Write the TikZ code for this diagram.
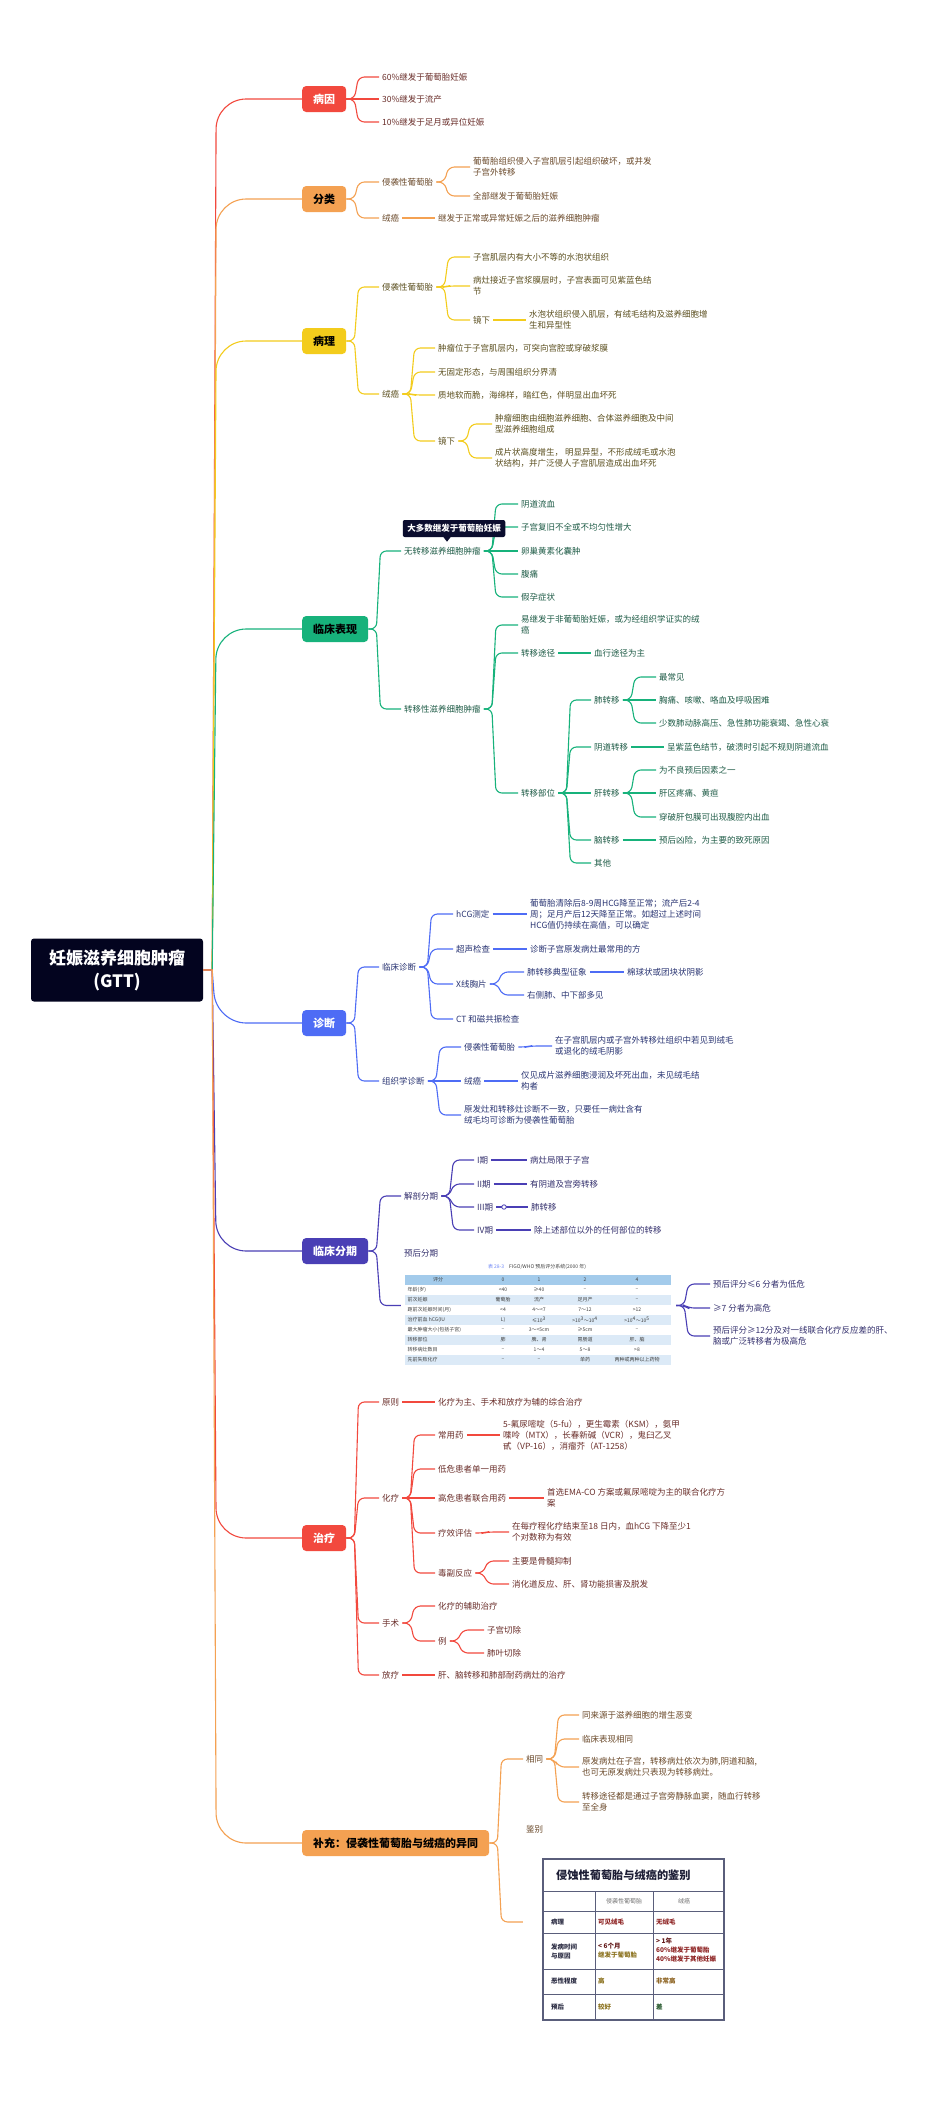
\documentclass[tikz,border=0pt]{standalone}
\usepackage{fontspec}
\setmainfont{Noto Sans CJK SC}
\usetikzlibrary{fit}

\definecolor{rootbg}{HTML}{03041F}
\definecolor{cRed}{HTML}{F2493E}
\definecolor{cOrange}{HTML}{F4A152}
\definecolor{cYellow}{HTML}{F3CC1C}
\definecolor{cGreen}{HTML}{17B27B}
\definecolor{cBlue}{HTML}{4E6CF5}
\definecolor{cIndigo}{HTML}{4A3FB5}
\definecolor{tRed}{HTML}{6A2E2A}
\definecolor{tOrange}{HTML}{6B4A2B}
\definecolor{tYellow}{HTML}{5C5020}
\definecolor{tGreen}{HTML}{1F5C47}
\definecolor{tBlue}{HTML}{2A3573}
\definecolor{tIndigo}{HTML}{35316E}
\definecolor{notebg}{HTML}{0B0D2E}
\definecolor{tabhead}{HTML}{A3CBEB}
\definecolor{tabrow}{HTML}{DCEAF7}
\definecolor{tabline}{HTML}{5A5E7B}
\definecolor{tabred}{HTML}{8E2323}
\definecolor{tabolive}{HTML}{8C7320}
\definecolor{tabgreen}{HTML}{2F5E35}

\tikzset{
  root/.style={fill=rootbg, text=white, rounded corners=3, minimum width=172,
    minimum height=63, align=center, font=\bfseries\fontsize{17}{23}\selectfont},
  main/.style={anchor=west, rounded corners=4, minimum height=26, inner xsep=11,
    inner ysep=0, font=\bfseries\fontsize{11}{13}\selectfont},
  leaf/.style={anchor=west, inner sep=3, align=left, font=\fontsize{8.5}{11}\selectfont},
  link/.style={line width=1.1, rounded corners=6},
  tabtxt/.style={inner sep=0.5, text=black!75, font=\fontsize{5}{6}\selectfont},
  cmp/.style={anchor=west, inner sep=0, align=left, font=\bfseries\fontsize{6.5}{9}\selectfont},
}
\newcommand\lnk[2]{\draw[link] (#1.east) -- ++(8,0) coordinate (lk) -- ([xshift=4pt]lk |- #2.west) -- (#2.west);}
\newcommand\rlnk[2]{\draw[line width=1.1, #1] (gtt.east) -- ++(9,0) coordinate (lk) [rounded corners=30] -- ([xshift=4pt]lk |- #2.west) -- (#2.west);}

\begin{document}
\begin{tikzpicture}[x=1pt,y=-1pt]
\useasboundingbox (0,0) rectangle (950,2104);
\fill[white] (0,0) rectangle (950,2104);

% Node: root
\node[root] (gtt) at (117,970) {妊娠滋养细胞肿瘤\\(GTT)};

% Node: main topics
\node[main, fill=cRed, text=white] (by) at (302,99) {病因};
\node[main, fill=cOrange, text=black] (fl) at (302,199) {分类};
\node[main, fill=cYellow, text=black] (bl) at (302,341) {病理};
\node[main, fill=cGreen, text=black] (lc) at (302,629) {临床表现};
\node[main, fill=cBlue, text=white] (zd) at (302,1023) {诊断};
\node[main, fill=cIndigo, text=white] (fq) at (302,1251) {临床分期};
\node[main, fill=cRed, text=white] (zl) at (302,1538) {治疗};
\node[main, fill=cOrange, text=black] (bc) at (302,1843) {补充：侵袭性葡萄胎与绒癌的异同};

% Edge: root -> main topics
\rlnk{cRed}{by}
\rlnk{cOrange}{fl}
\rlnk{cYellow}{bl}
\rlnk{cGreen}{lc}
\rlnk{cBlue}{zd}
\rlnk{cIndigo}{fq}
\rlnk{cRed}{zl}
\rlnk{cOrange}{bc}

% Branch: 病因
\begin{scope}[link/.append style={cRed}, leaf/.append style={text=tRed}]
  \node[leaf] (by1) at (379,77) {60\%继发于葡萄胎妊娠};
  \node[leaf] (by2) at (379,99) {30\%继发于流产};
  \node[leaf] (by3) at (379,122) {10\%继发于足月或异位妊娠};
  \lnk{by}{by1} \lnk{by}{by2} \lnk{by}{by3}
\end{scope}

% Branch: 分类
\begin{scope}[link/.append style={cOrange}, leaf/.append style={text=tOrange}]
  \node[leaf] (fl1) at (379,182) {侵袭性葡萄胎};
  \node[leaf] (fl11) at (470,167) {葡萄胎组织侵入子宫肌层引起组织破坏，或并发\\子宫外转移};
  \node[leaf] (fl12) at (470,196) {全部继发于葡萄胎妊娠};
  \node[leaf] (fl2) at (379,218) {绒癌};
  \node[leaf] (fl21) at (435,218) {继发于正常或异常妊娠之后的滋养细胞肿瘤};
  \lnk{fl}{fl1} \lnk{fl}{fl2}
  \lnk{fl1}{fl11} \lnk{fl1}{fl12}
  \lnk{fl2}{fl21}
\end{scope}

% Branch: 病理
\begin{scope}[link/.append style={cYellow}, leaf/.append style={text=tYellow}]
  \node[leaf] (bl1) at (379,287) {侵袭性葡萄胎};
  \node[leaf] (bl11) at (470,257) {子宫肌层内有大小不等的水泡状组织};
  \node[leaf] (bl12) at (470,286) {病灶接近子宫浆膜层时，子宫表面可见紫蓝色结\\节};
  \node[leaf] (bl13) at (470,320) {镜下};
  \node[leaf] (bl131) at (526,320) {水泡状组织侵入肌层，有绒毛结构及滋养细胞增\\生和异型性};
  \node[leaf] (bl2) at (379,394) {绒癌};
  \node[leaf] (bl21) at (435,348) {肿瘤位于子宫肌层内，可突向宫腔或穿破浆膜};
  \node[leaf] (bl22) at (435,372) {无固定形态，与周围组织分界清};
  \node[leaf] (bl23) at (435,395) {质地软而脆，海绵样，暗红色，伴明显出血坏死};
  \node[leaf] (bl24) at (435,441) {镜下};
  \node[leaf] (bl241) at (492,424) {肿瘤细胞由细胞滋养细胞、合体滋养细胞及中间\\型滋养细胞组成};
  \node[leaf] (bl242) at (492,458) {成片状高度增生， 明显异型，不形成绒毛或水泡\\状结构，并广泛侵人子宫肌层造成出血坏死};
  \lnk{bl}{bl1} \lnk{bl}{bl2}
  \lnk{bl1}{bl11} \lnk{bl1}{bl12} \lnk{bl1}{bl13} \lnk{bl13}{bl131}
  \lnk{bl2}{bl21} \lnk{bl2}{bl22} \lnk{bl2}{bl23} \lnk{bl2}{bl24}
  \lnk{bl24}{bl241} \lnk{bl24}{bl242}
\end{scope}

% Branch: 临床表现
\begin{scope}[link/.append style={cGreen}, leaf/.append style={text=tGreen}]
  \node[leaf] (lc1) at (401,551) {无转移滋养细胞肿瘤};
  \node[leaf] (lc11) at (518,504) {阴道流血};
  \node[leaf] (lc12) at (518,527) {子宫复旧不全或不均匀性增大};
  \node[leaf] (lc13) at (518,551) {卵巢黄素化囊肿};
  \node[leaf] (lc14) at (518,574) {腹痛};
  \node[leaf] (lc15) at (518,597) {假孕症状};
  \node[leaf] (lc2) at (401,709) {转移性滋养细胞肿瘤};
  \node[leaf] (lc21) at (518,625) {易继发于非葡萄胎妊娠，或为经组织学证实的绒\\癌};
  \node[leaf] (lc22) at (518,653) {转移途径};
  \node[leaf] (lc221) at (591,653) {血行途径为主};
  \node[leaf] (lc23) at (518,793) {转移部位};
  \node[leaf] (lc231) at (591,700) {肺转移};
  \node[leaf] (lc2311) at (656,677) {最常见};
  \node[leaf] (lc2312) at (656,700) {胸痛、咳嗽、咯血及呼吸困难};
  \node[leaf] (lc2313) at (656,723) {少数肺动脉高压、急性肺功能衰竭、急性心衰};
  \node[leaf] (lc232) at (591,747) {阴道转移};
  \node[leaf] (lc2321) at (664,747) {呈紫蓝色结节，破溃时引起不规则阴道流血};
  \node[leaf] (lc233) at (591,793) {肝转移};
  \node[leaf] (lc2331) at (656,770) {为不良预后因素之一};
  \node[leaf] (lc2332) at (656,793) {肝区疼痛、黄疸};
  \node[leaf] (lc2333) at (656,817) {穿破肝包膜可出现腹腔内出血};
  \node[leaf] (lc234) at (591,840) {脑转移};
  \node[leaf] (lc2341) at (656,840) {预后凶险，为主要的致死原因};
  \node[leaf] (lc235) at (591,863) {其他};
  \lnk{lc}{lc1} \lnk{lc}{lc2}
  \lnk{lc1}{lc11} \lnk{lc1}{lc12} \lnk{lc1}{lc13} \lnk{lc1}{lc14} \lnk{lc1}{lc15}
  \lnk{lc2}{lc21} \lnk{lc2}{lc22} \lnk{lc2}{lc23} \lnk{lc22}{lc221}
  \lnk{lc23}{lc231} \lnk{lc23}{lc232} \lnk{lc23}{lc233} \lnk{lc23}{lc234} \lnk{lc23}{lc235}
  \lnk{lc231}{lc2311} \lnk{lc231}{lc2312} \lnk{lc231}{lc2313}
  \lnk{lc232}{lc2321}
  \lnk{lc233}{lc2331} \lnk{lc233}{lc2332} \lnk{lc233}{lc2333}
  \lnk{lc234}{lc2341}
  % Node: note
  \node[fill=notebg, text=white, rounded corners=2, inner xsep=4.5, inner ysep=0,
    minimum height=17, font=\bfseries\fontsize{8.5}{10}\selectfont] (note) at (454,528.5) {大多数继发于葡萄胎妊娠};
  \fill[notebg] ([xshift=-7pt]note.south) -- ++(3.5,0) -- ++(-3.5,4.5) -- ++(-3.5,-4.5) -- cycle;
\end{scope}

% Branch: 诊断
\begin{scope}[link/.append style={cBlue}, leaf/.append style={text=tBlue}]
  \node[leaf] (zd1) at (379,967) {临床诊断};
  \node[leaf] (zd11) at (453,914) {hCG测定};
  \node[leaf] (zd111) at (527,914) {葡萄胎清除后8-9周HCG降至正常；流产后2-4\\周；足月产后12天降至正常。如超过上述时间\\HCG值仍持续在高值，可以确定};
  \node[leaf] (zd12) at (453,949) {超声检查};
  \node[leaf] (zd121) at (527,949) {诊断子宫原发病灶最常用的方};
  \node[leaf] (zd13) at (453,984) {X线胸片};
  \node[leaf] (zd131) at (524,972) {肺转移典型征象};
  \node[leaf] (zd1311) at (624,972) {棉球状或团块状阴影};
  \node[leaf] (zd132) at (524,995) {右侧肺、中下部多见};
  \node[leaf] (zd14) at (453,1019) {CT 和磁共振检查};
  \node[leaf] (zd2) at (379,1081) {组织学诊断};
  \node[leaf] (zd21) at (461,1047) {侵袭性葡萄胎};
  \node[leaf] (zd211) at (552,1046) {在子宫肌层内或子宫外转移灶组织中若见到绒毛\\或退化的绒毛阴影};
  \node[leaf] (zd22) at (461,1081) {绒癌};
  \node[leaf] (zd221) at (518,1081) {仅见成片滋养细胞浸润及坏死出血，未见绒毛结\\构者};
  \node[leaf] (zd23) at (461,1115) {原发灶和转移灶诊断不一致，只要任一病灶含有\\绒毛均可诊断为侵袭性葡萄胎};
  \lnk{zd}{zd1} \lnk{zd}{zd2}
  \lnk{zd1}{zd11} \lnk{zd1}{zd12} \lnk{zd1}{zd13} \lnk{zd1}{zd14}
  \lnk{zd11}{zd111} \lnk{zd12}{zd121}
  \lnk{zd13}{zd131} \lnk{zd13}{zd132} \lnk{zd131}{zd1311}
  \lnk{zd2}{zd21} \lnk{zd2}{zd22} \lnk{zd2}{zd23}
  \lnk{zd21}{zd211} \lnk{zd22}{zd221}
\end{scope}

% Branch: 临床分期
\begin{scope}[link/.append style={cIndigo}, leaf/.append style={text=tIndigo}]
  \node[leaf] (fq1) at (401,1196) {解剖分期};
  \node[leaf] (fq11) at (474,1160) {I期};
  \node[leaf] (fq111) at (527,1160) {病灶局限于子宫};
  \node[leaf] (fq12) at (474,1184) {II期};
  \node[leaf] (fq121) at (527,1184) {有阴道及宫旁转移};
  \node[leaf] (fq13) at (474,1207) {III期};
  \node[leaf] (fq131) at (528,1207) {肺转移};
  \node[leaf] (fq14) at (474,1230) {IV期};
  \node[leaf] (fq141) at (531,1230) {除上述部位以外的任何部位的转移};
  \node[leaf] (fqlab) at (401,1253) {预后分期};
  % Table: FIGO/WHO score
  \node[tabtxt] (fqtitle) at (537,1267) {\textcolor{cBlue!80}{表 28-3}\quad FIGO/WHO 预后评分系统(2000 年)};
  \fill[tabhead] (405,1275) rectangle (671,1285);
  \foreach \k in {2,4,6,8} \fill[tabrow] (405,1275+\k*10) rectangle (671,1285+\k*10);
  \node[tabtxt] (th0) at (438,1280) {评分};
  \node[tabtxt] (th1) at (503,1280) {0};
  \node[tabtxt] (th2) at (539,1280) {1};
  \node[tabtxt] (th3) at (585,1280) {2};
  \node[tabtxt] (th4) at (637,1280) {4};
  \foreach \k/\a/\b/\c/\d/\e in {
      1/年龄(岁)/<40/≥40/–/–,
      2/前次妊娠/葡萄胎/流产/足月产/–,
      3/距前次妊娠时间(月)/<4/4～<7/7～12/>12,
      4/治疗前血 hCG(IU/L)/≤10\textsuperscript{3}/>10\textsuperscript{3}～10\textsuperscript{4}/>10\textsuperscript{4}～10\textsuperscript{5}/>10\textsuperscript{5},
      5/最大肿瘤大小(包括子宫)/–/3～<5cm/≥5cm/–,
      6/转移部位/肺/脾、肾/胃肠道/肝、脑,
      7/转移病灶数目/–/1～4/5～8/>8,
      8/先前失败化疗/–/–/单药/两种或两种以上药物}{
    \node[tabtxt, anchor=west] (t\k a) at (407,1280+\k*10) {\a};
    \node[tabtxt] (t\k b) at (503,1280+\k*10) {\b};
    \node[tabtxt] (t\k c) at (539,1280+\k*10) {\c};
    \node[tabtxt] (t\k d) at (585,1280+\k*10) {\d};
    \node[tabtxt] (t\k e) at (637,1280+\k*10) {\e};
  }
  \coordinate (fqtl) at (405,1275);
  \coordinate (fqbr) at (676,1365);
  \node[fit=(fqlab)(fqtl)(fqbr), inner sep=0] (fq2) {};
  \node[leaf] (fq21) at (710,1284) {预后评分≤6 分者为低危};
  \node[leaf] (fq22) at (710,1308) {≥7 分者为高危};
  \node[leaf] (fq23) at (710,1336) {预后评分≥12分及对一线联合化疗反应差的肝、\\脑或广泛转移者为极高危};
  \lnk{fq}{fq1} \lnk{fq}{fq2}
  \lnk{fq1}{fq11} \lnk{fq1}{fq12} \lnk{fq1}{fq13} \lnk{fq1}{fq14}
  \lnk{fq11}{fq111} \lnk{fq12}{fq121} \lnk{fq13}{fq131} \lnk{fq14}{fq141}
  \lnk{fq2}{fq21} \lnk{fq2}{fq22} \lnk{fq2}{fq23}
  \node[circle, draw=cIndigo, fill=white, line width=0.8, inner sep=0, minimum size=4.5] (fqdot) at (504,1207) {};
\end{scope}

% Branch: 治疗
\begin{scope}[link/.append style={cRed}, leaf/.append style={text=tRed}]
  \node[leaf] (zl1) at (379,1402) {原则};
  \node[leaf] (zl11) at (435,1402) {化疗为主、手术和放疗为辅的综合治疗};
  \node[leaf] (zl2) at (379,1498) {化疗};
  \node[leaf] (zl21) at (435,1435) {常用药};
  \node[leaf] (zl211) at (500,1435) {5-氟尿嘧啶（5-fu），更生霉素（KSM），氨甲\\喋呤（MTX），长春新碱（VCR），鬼臼乙叉\\甙（VP-16），消瘤芥（AT-1258）};
  \node[leaf] (zl22) at (435,1469) {低危患者单一用药};
  \node[leaf] (zl23) at (435,1498) {高危患者联合用药};
  \node[leaf] (zl231) at (544,1498) {首选EMA-CO 方案或氟尿嘧啶为主的联合化疗方\\案};
  \node[leaf] (zl24) at (435,1533) {疗效评估};
  \node[leaf] (zl241) at (509,1532) {在每疗程化疗结束至18 日内，血hCG 下降至少1\\个对数称为有效};
  \node[leaf] (zl25) at (435,1573) {毒副反应};
  \node[leaf] (zl251) at (509,1561) {主要是骨髓抑制};
  \node[leaf] (zl252) at (509,1584) {消化道反应、肝、肾功能损害及脱发};
  \node[leaf] (zl3) at (379,1623) {手术};
  \node[leaf] (zl31) at (435,1606) {化疗的辅助治疗};
  \node[leaf] (zl32) at (435,1641) {例};
  \node[leaf] (zl321) at (484,1630) {子宫切除};
  \node[leaf] (zl322) at (484,1653) {肺叶切除};
  \node[leaf] (zl4) at (379,1675) {放疗};
  \node[leaf] (zl41) at (435,1675) {肝、脑转移和肺部耐药病灶的治疗};
  \lnk{zl}{zl1} \lnk{zl}{zl2} \lnk{zl}{zl3} \lnk{zl}{zl4}
  \lnk{zl1}{zl11}
  \lnk{zl2}{zl21} \lnk{zl2}{zl22} \lnk{zl2}{zl23} \lnk{zl2}{zl24} \lnk{zl2}{zl25}
  \lnk{zl21}{zl211} \lnk{zl23}{zl231} \lnk{zl24}{zl241}
  \lnk{zl25}{zl251} \lnk{zl25}{zl252}
  \lnk{zl3}{zl31} \lnk{zl3}{zl32} \lnk{zl32}{zl321} \lnk{zl32}{zl322}
  \lnk{zl4}{zl41}
\end{scope}

% Branch: 补充
\begin{scope}[link/.append style={cOrange}, leaf/.append style={text=tOrange}]
  \node[leaf] (bc1) at (523,1759) {相同};
  \node[leaf] (bc11) at (579,1715) {同来源于滋养细胞的增生恶变};
  \node[leaf] (bc12) at (579,1739) {临床表现相同};
  \node[leaf] (bc13) at (579,1767) {原发病灶在子宫，转移病灶依次为肺,阴道和脑,\\也可无原发病灶只表现为转移病灶。};
  \node[leaf] (bc14) at (579,1802) {转移途径都是通过子宫旁静脉血窦，随血行转移\\至全身};
  \node[leaf] (bclab) at (523,1829) {鉴别};
  % Table: 鉴别
  \draw[tabline, line width=1.1] (543,1859) rectangle (724,2020);
  \draw[tabline, line width=0.8] (543,1891) -- (724,1891) (543,1911) -- (724,1911)
    (543,1933) -- (724,1933) (543,1969) -- (724,1969) (543,1994) -- (724,1994)
    (595,1891) -- (595,2020) (653,1891) -- (653,2020);
  \node[anchor=west, inner sep=0, text=rootbg!90, font=\bfseries\fontsize{11.2}{13}\selectfont] (tbt) at (556,1875) {侵蚀性葡萄胎与绒癌的鉴别};
  \node[inner sep=0, text=black!55, font=\fontsize{6}{7}\selectfont] (tbh1) at (624,1901) {侵袭性葡萄胎};
  \node[inner sep=0, text=black!55, font=\fontsize{6}{7}\selectfont] (tbh2) at (684,1901) {绒癌};
  \node[cmp, text=rootbg!85] (tbr1) at (551,1922) {病理};
  \node[cmp, text=rootbg!85] (tbr2) at (551,1951) {发病时间\\与原因};
  \node[cmp, text=rootbg!85] (tbr3) at (551,1981) {恶性程度};
  \node[cmp, text=rootbg!85] (tbr4) at (551,2007) {预后};
  \node[cmp, text=tabred] (tbb1) at (598,1922) {可见绒毛};
  \node[cmp] (tbb2) at (598,1951) {\textcolor{tabred!70!black}{< 6个月}\\\textcolor{tabolive}{继发于葡萄胎}};
  \node[cmp, text=tabolive] (tbb3) at (598,1981) {高};
  \node[cmp, text=tabolive] (tbb4) at (598,2007) {较好};
  \node[cmp, text=tabred] (tbc1) at (656,1922) {无绒毛};
  \node[cmp, text=tabred] (tbc2) at (656,1950) {\textcolor{tabred!70!black}{> 1年}\\60\%继发于葡萄胎\\40\%继发于其他妊娠};
  \node[cmp, text=tabolive!80!tabred] (tbc3) at (656,1981) {非常高};
  \node[cmp, text=tabgreen] (tbc4) at (656,2007) {差};
  \coordinate (bctl) at (543,1859);
  \coordinate (bcbr) at (724,2022);
  \node[fit=(bclab)(bctl)(bcbr), inner sep=0] (bc2) {};
  \lnk{bc}{bc1} \lnk{bc}{bc2}
  \lnk{bc1}{bc11} \lnk{bc1}{bc12} \lnk{bc1}{bc13} \lnk{bc1}{bc14}
\end{scope}
\end{tikzpicture}
\end{document}
